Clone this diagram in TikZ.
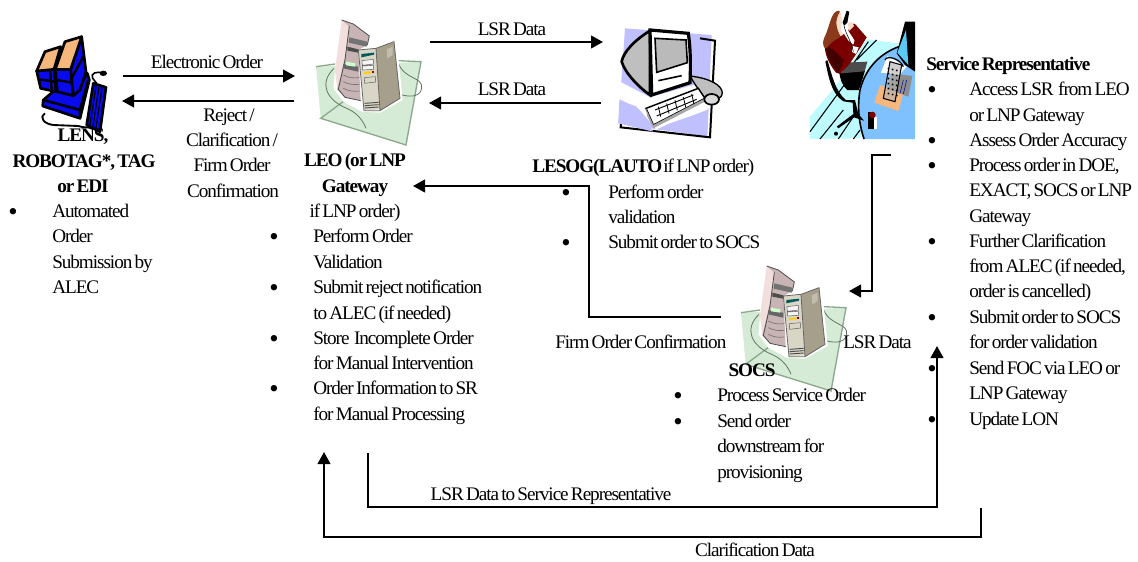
\documentclass[tikz,border=0pt]{standalone}
\usepackage{fontspec}
\setmainfont[LetterSpace=-5.5,WordSpace=0.6]{Liberation Serif}
\usetikzlibrary{arrows.meta}
\definecolor{sheet}{HTML}{D6EBD6}
\definecolor{sheetline}{HTML}{8CA88C}
\definecolor{towerA}{HTML}{C8B4B4}
\definecolor{towerB}{HTML}{F3DEDE}
\definecolor{boxA}{HTML}{DAD6C6}
\definecolor{boxB}{HTML}{A69F8C}
\definecolor{lensblue}{HTML}{0A0AF0}
\definecolor{lensor}{HTML}{F6B77C}
\definecolor{lilac}{HTML}{C0C0FF}
\definecolor{floorc}{HTML}{BDFBFF}
\definecolor{tablec}{HTML}{7FC0FF}
\definecolor{jacket}{HTML}{7A0000}
\definecolor{hairc}{HTML}{8A3A1A}
\definecolor{skinc}{HTML}{F7DCC8}
\tikzset{
 txt/.style={anchor=base west,inner sep=0pt,font=\fontsize{14.4}{16}\selectfont},
 ctr/.style={anchor=base,inner sep=0pt,font=\fontsize{14.4}{16}\selectfont},
 blt/.style={anchor=base west,inner sep=0pt,font=\fontsize{20}{20}\selectfont},
 conn/.style={line width=1.5pt,-{Triangle[length=9pt,width=9.5pt]}},
 thick outline/.style={draw=black,line width=2pt,line join=round},
 zoomc/.style={x=.25pt,y=-.25pt}
}
\newcommand\tl[4]{\node[txt] (#1) at (#2,#3) {#4};}
\newcommand\cl[4]{\node[ctr] (#1) at (#2,#3) {#4};}
\newcommand\bl[3]{\node[blt] (#1) at (#2-1,#3+3) {•};}
\newcommand\serverart{%
 \fill[sheet] (78,200) -- (393,185) -- (348,435) -- (92,355) -- cycle;
 \draw[sheetline,line width=1pt] (78,200) -- (135,192) (325,182) -- (393,185) -- (348,435) -- (92,355) -- cycle;
 \draw[sheetline!70!black,line width=.6pt] (132,205) .. controls (85,250) and (110,300) .. (170,325) .. controls (205,340) and (220,365) .. (228,385);
 \draw[sheetline!70!black,line width=.6pt] (325,190) .. controls (345,240) and (400,230) .. (395,265) .. controls (390,295) and (350,290) .. (330,283);
 \fill[white] (150,55) -- (245,105) -- (320,120) -- (338,300) -- (270,338) -- (215,335) -- (160,305) -- (130,265) -- cycle;
 \fill[towerB] (155,60) -- (135,210) -- (142,270) -- (165,170) -- (180,75) -- cycle;
 \fill[towerA] (155,60) -- (190,72) -- (238,108) -- (232,135) -- (205,150) -- (212,302) -- (165,292) -- (142,268) -- (165,170) -- (178,80) -- cycle;
 \draw[black!70,line width=.6pt] (155,60) -- (190,72) -- (238,108) -- (232,135) (178,78) -- (165,180) -- (145,268) -- (165,292) -- (212,302);
 \fill[black!55] (178,112) -- (232,125) -- (230,140) -- (176,128) -- cycle;
 \fill[black!70] (172,140) -- (205,148) -- (205,158) -- (172,152) -- cycle;
 \fill[black!60] (160,192) -- (205,200) -- (205,215) -- (160,205) -- cycle;
 \fill[white!80!green] (168,185) -- (196,190) -- (196,200) -- (168,196) -- cycle;
 \foreach \yy in {225,245,265}{\draw[black!55,line width=.5pt] (160,\yy) .. controls (175,\yy+8) and (190,\yy+10) .. (208,\yy+8);}
 \fill[boxA] (205,150) -- (258,145) -- (270,328) -- (222,332) -- cycle;
 \fill[boxB] (258,145) -- (312,125) -- (330,295) -- (270,332) -- cycle;
 \fill[boxB!70] (290,148) -- (308,140) -- (308,165) -- (292,175) -- cycle;
 \draw[black!60,line width=.6pt] (205,150) -- (258,145) -- (312,125) -- (330,295) -- (270,332) -- (222,332) -- cycle (258,145) -- (270,332);
 \fill[teal!70!black] (214,162) -- (252,158) -- (252,164) -- (214,172) -- cycle;
 \draw[black!60,fill=white!92!gray,line width=.4pt] (216,182) -- (250,178) -- (251,192) -- (217,196) -- cycle (217,198) -- (250,196) -- (251,208) -- (218,210) -- cycle;
 \fill[yellow!70!orange] (222,216) -- (245,214) -- (245,220) -- (222,222) -- cycle;
 \fill[red!60!black] (246,213) rectangle (253,220);
 \draw[black!60,line width=.4pt] (223,233) -- (256,230) -- (257,246) -- (224,250) -- cycle;
 \draw[black!70,line width=.7pt] (224,310) -- (266,307) (224,317) -- (266,314) (224,324) -- (266,321);
}
\begin{document}
\begin{tikzpicture}[x=.75pt,y=-.75pt]
\useasboundingbox (0,0) rectangle (1138,561);
% ---------- LENS computer
\begin{scope}[zoomc]
 \draw[line width=1.4pt,fill=white] (135,340) .. controls (115,355) and (135,372) .. (160,375) -- (235,378) .. controls (255,385) and (265,380) .. (275,385);
 \draw[line width=1.2pt] (310,220) .. controls (290,212) and (270,220) .. (278,235) -- (290,250);
 \fill (310,220) ellipse [x radius=11,y radius=8];
 \draw[thick outline,fill=lensblue] (280,250) -- (318,262) -- (300,395) -- (260,375) -- cycle;
 \foreach \dd in {0,9,18}{\draw[line width=.9pt] (288+\dd,258+\dd*.3) -- (270+\dd,375+\dd*.5);}
 \draw[thick outline,fill=lensblue] (130,300) -- (165,270) -- (222,285) -- (262,220) -- (268,240) -- (240,355) -- (128,318) -- cycle;
 \draw[line width=2pt] (130,300) -- (240,330) -- (265,240) (240,330) -- (240,355);
 \draw[thick outline,fill=lensblue] (110,213) -- (162,208) -- (168,275) -- (122,265) -- cycle;
 \draw[thick outline,fill=lensor] (110,213) -- (135,155) -- (182,140) -- (162,208) -- cycle;
 \draw[line width=1.8pt] (115,238) -- (165,245) (150,210) -- (155,272);
 \draw[thick outline,fill=lensblue] (166,208) -- (212,208) -- (220,287) -- (172,275) -- cycle;
 \draw[thick outline,fill=lensblue] (212,208) -- (245,110) -- (258,215) -- (240,270) -- (220,287) -- cycle;
 \draw[thick outline,fill=lensor] (166,208) -- (195,125) -- (245,110) -- (212,208) -- cycle;
 \draw[line width=1.8pt] (170,240) -- (218,248) (212,240) -- (250,170);
\end{scope}
% ---------- servers
\begin{scope}[zoomc,shift={(290*3,0)}]\serverart\end{scope}
\begin{scope}[zoomc,shift={(715*3,246*3)}]\serverart\end{scope}
% ---------- monitor
\begin{scope}[zoomc,shift={(590*3,10*3)}]
 \fill[lilac] (105,55) -- (365,75) -- (352,380) -- (85,340) -- cycle;
 \fill[white] (90,215) -- (180,262) -- (345,215) -- (395,250) -- (350,300) -- (200,360) -- (150,300) -- (85,265) -- cycle;
 \draw[line width=1.5pt] (330,85) -- (375,92) -- (360,382) -- (92,352) -- (95,315);
 \fill[lilac] (300,100) -- (352,105) -- (350,200) -- (300,180) -- cycle;
 \fill[lilac] (88,270) -- (140,290) -- (190,365) -- (85,340) -- cycle;
 \fill[lilac] (240,340) -- (355,300) -- (350,375) -- (200,358) -- cycle;
 \draw[line width=1pt,fill=black!25] (300,198) .. controls (360,205) and (395,225) .. (397,248) .. controls (395,270) and (375,270) .. (345,268) -- (310,215) -- cycle;
 \draw[line width=2pt,fill=black!25] (180,62) .. controls (135,90) and (100,125) .. (95,155) .. controls (105,190) and (150,235) .. (180,255) -- cycle;
 \draw[line width=2.4pt,fill=white] (180,60) -- (295,70) .. controls (302,120) and (302,170) .. (300,218) -- (185,255) -- cycle;
 \draw[line width=1.2pt,fill=black!27] (195,85) -- (288,90) -- (292,158) -- (200,187) -- cycle;
 \draw[line width=1.2pt] (205,212) -- (275,197);
 \draw[line width=1.1pt,fill=white] (168,295) -- (325,235) -- (345,265) -- (190,345) -- cycle;
 \fill[black!35] (168,295) -- (190,345) -- (345,265) -- (345,275) -- (190,355) -- (172,320) -- cycle;
 \draw[line width=.7pt] (195,300) -- (310,255) (200,318) -- (320,268);
 \foreach \dd in {0,25,...,100}{\draw[line width=.6pt] (205+\dd,290-\dd*.38) -- (212+\dd,320-\dd*.38);}
 \draw[line width=1.3pt,fill=black!15] (365,268) ellipse [x radius=22,y radius=16];
\end{scope}
% ---------- service representative
\begin{scope}[zoomc,shift={(590*3,10*3)}]
 \fill[floorc] (830,88) -- (925,100) -- (810,385) -- (660,387) -- (660,320) -- (740,225) -- cycle;
 \draw[line width=.8pt] (660,365) -- (770,215) (690,387) -- (760,300) (745,387) -- (790,320) (790,387) -- (810,360) (800,150) -- (860,90) (770,190) -- (835,95);
 \fill[tablec] (975,98) .. controls (890,110) and (830,160) .. (810,240) .. controls (800,300) and (810,350) .. (822,387) -- (975,387) -- cycle;
 \draw[line width=1.2pt] (975,98) .. controls (890,110) and (830,160) .. (810,240) .. controls (800,300) and (810,350) .. (822,387);
 \fill[black] (945,35) -- (975,35) -- (975,185) -- (945,165) -- (920,130) -- cycle;
 \fill[cyan!65!white] (948,60) -- (922,128) -- (955,165) -- cycle;
 \fill[lensor] (870,225) -- (940,250) -- (925,303) -- (853,278) -- cycle;
 \fill[black!45] (905,190) -- (967,198) -- (955,260) -- (895,238) -- cycle;
 \draw[blue!60!black,line width=.4pt] (940,210) -- (930,250) (950,210) -- (940,252);
 \fill[white] (892,138) -- (950,170) -- (928,195) -- (873,188) -- cycle;
 \draw[line width=.9pt] (885,150) .. controls (890,135) and (930,145) .. (940,170);
 \draw[line width=.8pt,fill=black!30,fill opacity=.6] (900,155) -- (935,165) -- (915,275) -- (880,265) -- cycle;
 \foreach \yy in {175,190,...,250}{\draw[line width=1.2pt,dotted] (893,\yy) -- (927,\yy+8);}
 \fill[black] (835,305) rectangle (852,357);
 \fill[white] (852,320) rectangle (862,357);
 \fill[jacket] (847,315) circle (10);
 % chair
 \fill[black] (712,150) .. controls (725,190) and (735,245) .. (768,270) -- (795,270) -- (805,312) -- (822,332) -- (792,322) -- (745,355) -- (740,350) -- (790,312) -- (788,278) -- (760,274) .. controls (722,250) and (715,195) .. (706,155) -- cycle;
 \fill (738,371) circle (6);
 % pants
 \fill[black] (748,188) -- (825,182) -- (812,225) -- (806,240) -- (772,240) .. controls (755,225) and (750,205) .. (748,188) -- cycle;
 \fill[black!70] (770,158) -- (832,155) -- (824,184) -- (755,190) -- cycle;
 % jacket
 \fill[jacket] (705,95) .. controls (720,75) and (745,70) .. (762,72) -- (775,92) -- (790,105) -- (800,70) -- (830,82) -- (812,112) -- (780,160) -- (750,192) -- (738,188) .. controls (715,160) and (700,125) .. (705,95) -- cycle;
 \fill[jacket!55!black] (703,105) .. controls (712,150) and (730,172) .. (745,190) -- (762,150) -- (728,118) -- cycle;
 \fill[white] (788,108) -- (806,112) -- (798,132) -- (786,126) -- cycle;
 % head, hand, hair, phone
 \fill[skinc] (738,15) -- (752,8) -- (757,30) -- (752,62) -- (760,75) -- (745,80) -- (740,50) -- cycle;
 \fill[jacket] (782,40) -- (795,42) -- (830,82) -- (800,100) -- (775,62) -- cycle;
 \fill[skinc] (772,40) -- (786,35) -- (792,48) -- (778,62) -- cycle;
 \fill[hairc] (745,2) .. controls (722,5) and (720,50) .. (702,85) .. controls (695,105) and (703,118) .. (710,115) .. controls (722,95) and (740,88) .. (752,80) .. controls (738,55) and (733,30) .. (750,5) -- cycle;
 \fill[black] (770,2) -- (778,5) -- (772,38) -- (762,47) -- (758,38) -- cycle;
 \draw[line width=.4pt] (762,47) .. controls (768,75) and (785,95) .. (790,125);
\end{scope}
% ---------- text
\cl{lensA}{83}{141}{\bfseries LENS,}
\cl{lensB}{84}{167}{\bfseries ROBOTAG*, TAG}
\cl{lensC}{83}{192}{\bfseries or EDI}
\bl{b1}{9}{217}
\tl{lensD}{52}{217}{Automated}
\tl{lensE}{52}{242}{Order}
\tl{lensF}{52}{268}{Submission by}
\tl{lensG}{52}{293}{ALEC}
\cl{eo}{207}{68}{Electronic Order}
\cl{rA}{229}{121}{Reject /}
\cl{rB}{232}{146}{Clarification /}
\cl{rC}{232}{171}{Firm Order}
\cl{rD}{233}{197}{Confirmation}
\cl{leoA}{355}{166}{\bfseries LEO (or LNP}
\cl{leoB}{355}{192}{\bfseries Gateway}
\cl{leoC}{355}{217}{if LNP order)}
\bl{b2}{270}{242}
\tl{leoD}{313}{242}{Perform Order}
\tl{leoE}{313}{268}{Validation}
\bl{b3}{270}{293}
\tl{leoF}{313}{293}{Submit reject notification}
\tl{leoG}{313}{319}{to ALEC (if needed)}
\bl{b4}{270}{344}
\tl{leoH}{313}{344}{Store \ Incomplete Order}
\tl{leoI}{313}{369}{for Manual Intervention}
\bl{b5}{270}{394}
\tl{leoJ}{313}{394}{Order Information to SR}
\tl{leoK}{313}{420}{for Manual Processing}
\cl{lsrA}{512}{35}{LSR Data}
\cl{lsrB}{512}{95}{LSR Data}
\node[txt] (les) at (532,172) {\textbf{LESOG(LAUTO} if LNP order)};
\bl{b6}{562}{198}
\tl{lesA}{608}{198}{Perform order}
\tl{lesB}{608}{223}{validation}
\bl{b7}{562}{248}
\tl{lesC}{608}{248}{Submit order to SOCS}
\tl{srT}{926}{70}{\bfseries Service Representative}
\bl{b8}{928}{95}
\tl{srA}{969}{95}{Access LSR \ from LEO}
\tl{srB}{969}{121}{or LNP Gateway}
\bl{b9}{928}{146}
\tl{srC}{969}{146}{Assess Order Accuracy}
\bl{b10}{928}{171}
\tl{srD}{969}{171}{Process order in DOE,}
\tl{srE}{969}{196}{EXACT, SOCS or LNP}
\tl{srF}{969}{222}{Gateway}
\bl{b11}{928}{247}
\tl{srG}{969}{247}{Further Clarification}
\tl{srH}{969}{272}{from ALEC (if needed,}
\tl{srI}{969}{297}{order is cancelled)}
\bl{b12}{928}{323}
\tl{srJ}{969}{323}{Submit order to SOCS}
\tl{srK}{969}{348}{for order validation}
\bl{b13}{928}{374}
\tl{srL}{969}{374}{Send FOC via LEO or}
\tl{srM}{969}{399}{LNP Gateway}
\bl{b14}{928}{425}
\tl{srN}{969}{425}{Update LON}
\tl{foc}{555}{348}{Firm Order Confirmation}
\tl{lsrC}{843}{348}{LSR Data}
\cl{socsT}{752}{376}{\bfseries SOCS}
\bl{b15}{674}{401}
\tl{socsA}{717}{401}{Process Service Order}
\bl{b16}{674}{427}
\tl{socsB}{717}{427}{Send order}
\tl{socsC}{717}{452}{downstream for}
\tl{socsD}{717}{478}{provisioning}
\cl{lsrD}{551}{500}{LSR Data to Service Representative}
\cl{clar}{755}{556}{Clarification Data}
% ---------- connectors
\coordinate (eoS) at (123,76); \coordinate (eoE) at (295,76);
\coordinate (rjS) at (294,101); \coordinate (rjE) at (122,101);
\coordinate (l1S) at (430,42); \coordinate (l1E) at (603,42);
\coordinate (l2S) at (601,103); \coordinate (l2E) at (429,103);
\coordinate (fS) at (721,317); \coordinate (fA) at (589,317); \coordinate (fB) at (589,186); \coordinate (fE) at (413,186);
\coordinate (sS) at (891,155); \coordinate (sA) at (872,155); \coordinate (sB) at (872,291); \coordinate (sE) at (849,291);
\coordinate (dS) at (368,453); \coordinate (dA) at (368,507); \coordinate (dB) at (937,507); \coordinate (dE) at (937,346);
\coordinate (cS) at (981,508); \coordinate (cA) at (981,537); \coordinate (cB) at (324,537); \coordinate (cE) at (324,452);
\draw[conn] (eoS) -- (eoE);
\draw[conn] (rjS) -- (rjE);
\draw[conn] (l1S) -- (l1E);
\draw[conn] (l2S) -- (l2E);
\draw[conn] (fS) -- (fA) -- (fB) -- (fE);
\draw[conn] (sS) -- (sA) -- (sB) -- (sE);
\draw[conn] (dS) -- (dA) -- (dB) -- (dE);
\draw[conn] (cS) -- (cA) -- (cB) -- (cE);
\end{tikzpicture}
\end{document}
